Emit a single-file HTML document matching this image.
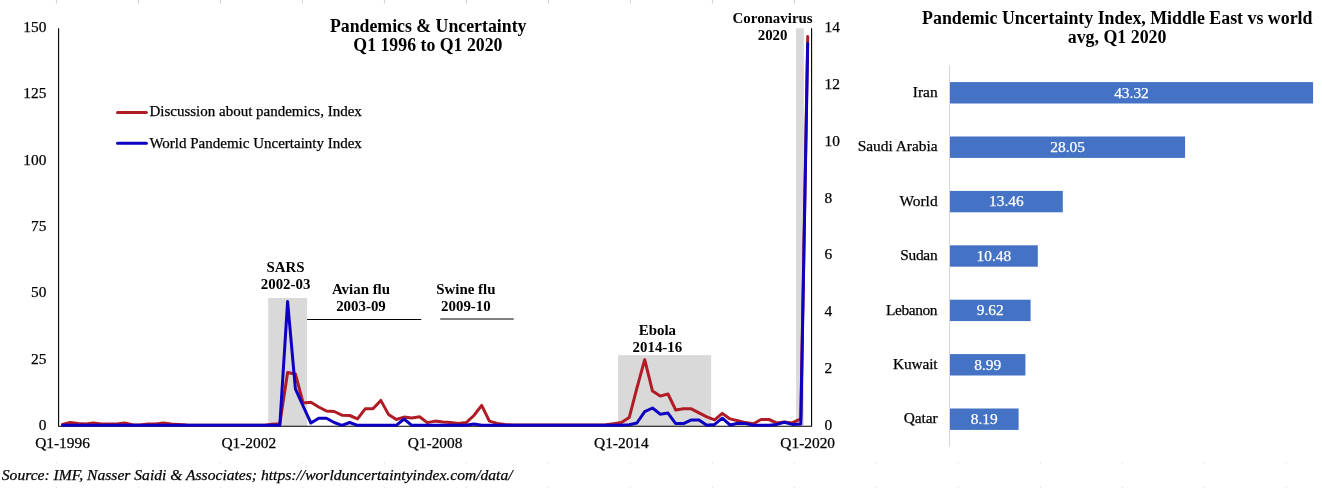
<!DOCTYPE html>
<html lang="en"><head><meta charset="utf-8"><title>Pandemics &amp; Uncertainty</title>
<style>html,body{margin:0;padding:0;background:#fff}svg{display:block}text{font-family:"Liberation Serif", "Times New Roman", Times, serif;fill:#000}.n,.l,.s{stroke:#000;stroke-width:.25px}.w{stroke:#fff}.n{font-size:15.4px}.l{font-size:15px}.b{font-size:14.9px;font-weight:bold}.t{font-size:17.8px;font-weight:bold}.t2{font-size:17.86px;font-weight:bold}.w{fill:#fff}.s{font-size:15.6px;font-style:italic}</style></head><body>
<svg width="1322" height="488" viewBox="0 0 1322 488">
<rect width="1322" height="488" fill="#fff"/>
<rect x="55.9" y="0" width="1" height="3.5" fill="#cfcfcf"/><rect x="137.9" y="0" width="1" height="3.5" fill="#cfcfcf"/><rect x="219.9" y="0" width="1" height="3.5" fill="#cfcfcf"/><rect x="301.9" y="0" width="1" height="3.5" fill="#cfcfcf"/><rect x="383.9" y="0" width="1" height="3.5" fill="#cfcfcf"/><rect x="465.9" y="0" width="1" height="3.5" fill="#cfcfcf"/><rect x="547.9" y="0" width="1" height="3.5" fill="#cfcfcf"/><rect x="629.9" y="0" width="1" height="3.5" fill="#cfcfcf"/><rect x="711.9" y="0" width="1" height="3.5" fill="#cfcfcf"/><rect x="793.9" y="0" width="1" height="3.5" fill="#cfcfcf"/><rect x="55.9" y="462.7" width="1" height="1" fill="#d4d4d4"/><rect x="55.9" y="486.8" width="1" height="1" fill="#d4d4d4"/><rect x="137.9" y="462.7" width="1" height="1" fill="#d4d4d4"/><rect x="137.9" y="486.8" width="1" height="1" fill="#d4d4d4"/><rect x="219.9" y="462.7" width="1" height="1" fill="#d4d4d4"/><rect x="219.9" y="486.8" width="1" height="1" fill="#d4d4d4"/><rect x="301.9" y="462.7" width="1" height="1" fill="#d4d4d4"/><rect x="301.9" y="486.8" width="1" height="1" fill="#d4d4d4"/><rect x="383.9" y="462.7" width="1" height="1" fill="#d4d4d4"/><rect x="383.9" y="486.8" width="1" height="1" fill="#d4d4d4"/><rect x="465.9" y="462.7" width="1" height="1" fill="#d4d4d4"/><rect x="465.9" y="486.8" width="1" height="1" fill="#d4d4d4"/><rect x="547.9" y="462.7" width="1" height="1" fill="#d4d4d4"/><rect x="547.9" y="486.8" width="1" height="1" fill="#d4d4d4"/><rect x="629.9" y="462.7" width="1" height="1" fill="#d4d4d4"/><rect x="629.9" y="486.8" width="1" height="1" fill="#d4d4d4"/><rect x="711.9" y="462.7" width="1" height="1" fill="#d4d4d4"/><rect x="711.9" y="486.8" width="1" height="1" fill="#d4d4d4"/><rect x="793.9" y="462.7" width="1" height="1" fill="#d4d4d4"/><rect x="793.9" y="486.8" width="1" height="1" fill="#d4d4d4"/><rect x="875.9" y="462.7" width="1" height="1" fill="#d4d4d4"/><rect x="875.9" y="486.8" width="1" height="1" fill="#d4d4d4"/><rect x="957.9" y="462.7" width="1" height="1" fill="#d4d4d4"/><rect x="957.9" y="486.8" width="1" height="1" fill="#d4d4d4"/><rect x="1039.9" y="462.7" width="1" height="1" fill="#d4d4d4"/><rect x="1039.9" y="486.8" width="1" height="1" fill="#d4d4d4"/><rect x="1121.9" y="462.7" width="1" height="1" fill="#d4d4d4"/><rect x="1121.9" y="486.8" width="1" height="1" fill="#d4d4d4"/><rect x="1203.9" y="462.7" width="1" height="1" fill="#d4d4d4"/><rect x="1203.9" y="486.8" width="1" height="1" fill="#d4d4d4"/><rect x="1285.9" y="462.7" width="1" height="1" fill="#d4d4d4"/><rect x="1285.9" y="486.8" width="1" height="1" fill="#d4d4d4"/>
<rect x="268.2" y="298.0" width="38.9" height="128.3" fill="#d9d9d9"/>
<rect x="618" y="355.2" width="93.1" height="71.1" fill="#d9d9d9"/>
<rect x="796.1" y="28.2" width="7.75" height="398.1" fill="#d9d9d9"/>
<path d="M58.6 28.2V426.3H811.6V28.2" fill="none" stroke="#000" stroke-width="1.1"/>
<path d="M307.1 319.5H421.2M440.2 319H513.7" stroke="#000" stroke-width="1.2" fill="none"/>
<polyline points="62.5,424.5 70.2,422.5 78.0,423.4 85.8,424.0 93.5,423.0 101.3,424.0 109.1,424.0 116.8,424.0 124.6,423.0 132.3,424.8 140.1,425.0 147.9,424.1 155.6,424.0 163.4,423.0 171.2,424.1 178.9,424.4 186.7,425.0 194.5,425.3 202.2,425.3 210.0,425.3 217.7,425.3 225.5,425.3 233.3,425.3 241.0,425.3 248.8,425.3 256.6,425.3 264.3,425.3 272.1,424.3 279.8,423.7 287.6,372.5 295.4,373.9 303.1,403.0 310.9,402.2 318.7,407.0 326.4,411.0 334.2,411.5 341.9,415.2 349.7,415.5 357.5,418.9 365.2,408.8 373.0,408.8 380.8,400.4 388.5,414.4 396.3,419.5 404.0,417.1 411.8,417.9 419.6,416.8 427.3,422.6 435.1,421.1 442.9,422.1 450.6,422.6 458.4,423.4 466.2,422.6 473.9,415.5 481.7,405.4 489.4,421.1 497.2,423.4 505.0,424.5 512.7,424.9 520.5,425.0 528.3,425.0 536.0,425.0 543.8,425.0 551.5,425.0 559.3,425.0 567.1,425.0 574.8,425.0 582.6,425.0 590.4,425.0 598.1,424.9 605.9,424.8 613.6,423.7 621.4,422.6 629.2,417.6 636.9,388.1 644.7,359.7 652.5,391.1 660.2,396.1 668.0,394.0 675.7,410.0 683.5,408.7 691.3,408.8 699.0,412.8 706.8,416.8 714.6,419.9 722.3,413.4 730.1,418.9 737.9,420.7 745.6,422.6 753.4,423.7 761.1,419.5 768.9,419.5 776.7,422.9 784.4,422.1 792.2,422.9 800.8,418.9 807.7,36.5" fill="none" stroke="#b01c26" stroke-width="3" stroke-linejoin="round" stroke-linecap="round"/>
<polyline points="62.5,425.3 70.2,425.3 78.0,425.3 85.8,425.3 93.5,425.3 101.3,425.3 109.1,425.3 116.8,425.3 124.6,425.3 132.3,425.3 140.1,425.3 147.9,425.3 155.6,425.3 163.4,425.3 171.2,425.3 178.9,425.3 186.7,425.3 194.5,425.3 202.2,425.3 210.0,425.3 217.7,425.3 225.5,425.3 233.3,425.3 241.0,425.3 248.8,425.3 256.6,425.3 264.3,425.3 272.1,425.3 279.8,425.3 287.6,301.6 295.4,388.9 303.1,406.0 310.9,423.0 318.7,418.2 326.4,418.2 334.2,422.5 341.9,425.3 349.7,422.5 357.5,425.3 365.2,425.3 373.0,425.3 380.8,425.3 388.5,425.3 396.3,425.3 404.0,419.0 411.8,425.3 419.6,425.3 427.3,425.3 435.1,425.3 442.9,425.3 450.6,425.3 458.4,425.3 466.2,425.3 473.9,424.0 481.7,425.3 489.4,425.3 497.2,425.3 505.0,425.3 512.7,425.3 520.5,425.3 528.3,425.3 536.0,425.3 543.8,425.3 551.5,425.3 559.3,425.3 567.1,425.3 574.8,425.3 582.6,425.3 590.4,425.3 598.1,425.3 605.9,425.3 613.6,425.3 621.4,425.3 629.2,424.7 636.9,423.0 644.7,411.7 652.5,408.0 660.2,414.2 668.0,413.1 675.7,423.6 683.5,423.6 691.3,419.9 699.0,419.9 706.8,425.3 714.6,424.4 722.3,418.2 730.1,425.0 737.9,423.3 745.6,423.6 753.4,425.3 761.1,425.3 768.9,425.3 776.7,424.4 784.4,422.2 792.2,424.4 800.8,423.9 807.7,43.6" fill="none" stroke="#0e00c0" stroke-width="3" stroke-linejoin="round" stroke-linecap="round"/>
<text class="n" x="46.4" y="430.0" text-anchor="end">0</text>
<text class="n" x="46.4" y="363.6" text-anchor="end">25</text>
<text class="n" x="46.4" y="297.3" text-anchor="end">50</text>
<text class="n" x="46.4" y="230.9" text-anchor="end">75</text>
<text class="n" x="46.4" y="164.6" text-anchor="end">100</text>
<text class="n" x="46.4" y="98.3" text-anchor="end">125</text>
<text class="n" x="46.4" y="31.9" text-anchor="end">150</text>
<text class="n" x="824.6" y="430.0">0</text>
<text class="n" x="824.6" y="373.1">2</text>
<text class="n" x="824.6" y="316.3">4</text>
<text class="n" x="824.6" y="259.4">6</text>
<text class="n" x="824.6" y="202.5">8</text>
<text class="n" x="824.6" y="145.6">10</text>
<text class="n" x="824.6" y="88.8">12</text>
<text class="n" x="824.6" y="31.9">14</text>
<text class="n" x="62.5" y="447.7" text-anchor="middle">Q1-1996</text>
<text class="n" x="248.8" y="447.7" text-anchor="middle">Q1-2002</text>
<text class="n" x="435.1" y="447.7" text-anchor="middle">Q1-2008</text>
<text class="n" x="621.4" y="447.7" text-anchor="middle">Q1-2014</text>
<text class="n" x="807.7" y="447.7" text-anchor="middle">Q1-2020</text>
<text class="t" x="428.2" y="31.9" text-anchor="middle">Pandemics &amp; Uncertainty</text>
<text class="t" x="427.9" y="50.5" text-anchor="middle">Q1 1996 to Q1 2020</text>
<path d="M117.5 112.4H146.4" stroke="#b01c26" stroke-width="3" stroke-linecap="round"/>
<path d="M117.5 143.3H146.4" stroke="#0e00c0" stroke-width="3" stroke-linecap="round"/>
<text class="l" x="149.4" y="116.2">Discussion about pandemics, Index</text>
<text class="l" x="149.4" y="147.5">World Pandemic Uncertainty Index</text>
<text class="b" x="285.6" y="271.6" text-anchor="middle">SARS</text>
<text class="b" x="285.6" y="289.2" text-anchor="middle">2002-03</text>
<text class="b" x="361.0" y="294.1" text-anchor="middle">Avian flu</text>
<text class="b" x="361.0" y="310.8" text-anchor="middle">2003-09</text>
<text class="b" x="465.9" y="294.1" text-anchor="middle">Swine flu</text>
<text class="b" x="465.9" y="310.8" text-anchor="middle">2009-10</text>
<text class="b" x="657.4" y="334.6" text-anchor="middle">Ebola</text>
<text class="b" x="657.4" y="351.5" text-anchor="middle">2014-16</text>
<text class="b" x="772.6" y="22.5" text-anchor="middle">Coronavirus</text>
<text class="b" x="772.6" y="40.1" text-anchor="middle">2020</text>
<text class="s" x="1.8" y="480">Source: IMF, Nasser Saidi &amp; Associates; https://worlduncertaintyindex.com/data/</text>
<text class="t2" x="1117.3" y="23.8" text-anchor="middle">Pandemic Uncertainty Index, Middle East vs world</text>
<text class="t2" x="1117.1" y="43.1" text-anchor="middle">avg, Q1 2020</text>
<rect x="949" y="65.5" width="1" height="381" fill="#d6d6d6"/>
<rect x="950.0" y="82.1" width="363.1" height="21.4" fill="#4472c4"/>
<text class="n" x="937.6" y="97.0" text-anchor="end">Iran</text>
<text class="n w" x="1131.5" y="97.6" text-anchor="middle">43.32</text>
<rect x="950.0" y="136.5" width="235.1" height="21.4" fill="#4472c4"/>
<text class="n" x="937.6" y="151.4" text-anchor="end">Saudi Arabia</text>
<text class="n w" x="1067.6" y="152.0" text-anchor="middle">28.05</text>
<rect x="950.0" y="190.9" width="112.8" height="21.4" fill="#4472c4"/>
<text class="n" x="937.6" y="205.8" text-anchor="end">World</text>
<text class="n w" x="1006.4" y="206.4" text-anchor="middle">13.46</text>
<rect x="950.0" y="245.3" width="87.8" height="21.4" fill="#4472c4"/>
<text class="n" x="937.4" y="260.2" text-anchor="end" letter-spacing="-0.25">Sudan</text>
<text class="n w" x="993.9" y="260.8" text-anchor="middle">10.48</text>
<rect x="950.0" y="299.7" width="80.6" height="21.4" fill="#4472c4"/>
<text class="n" x="937.2" y="314.6" text-anchor="end" letter-spacing="-0.38">Lebanon</text>
<text class="n w" x="990.3" y="315.2" text-anchor="middle">9.62</text>
<rect x="950.0" y="354.1" width="75.4" height="21.4" fill="#4472c4"/>
<text class="n" x="937.5" y="369.0" text-anchor="end" letter-spacing="-0.14">Kuwait</text>
<text class="n w" x="987.7" y="369.6" text-anchor="middle">8.99</text>
<rect x="950.0" y="408.5" width="68.6" height="21.4" fill="#4472c4"/>
<text class="n" x="937.5" y="423.4" text-anchor="end" letter-spacing="-0.1">Qatar</text>
<text class="n w" x="984.3" y="424.0" text-anchor="middle">8.19</text>
</svg></body></html>
